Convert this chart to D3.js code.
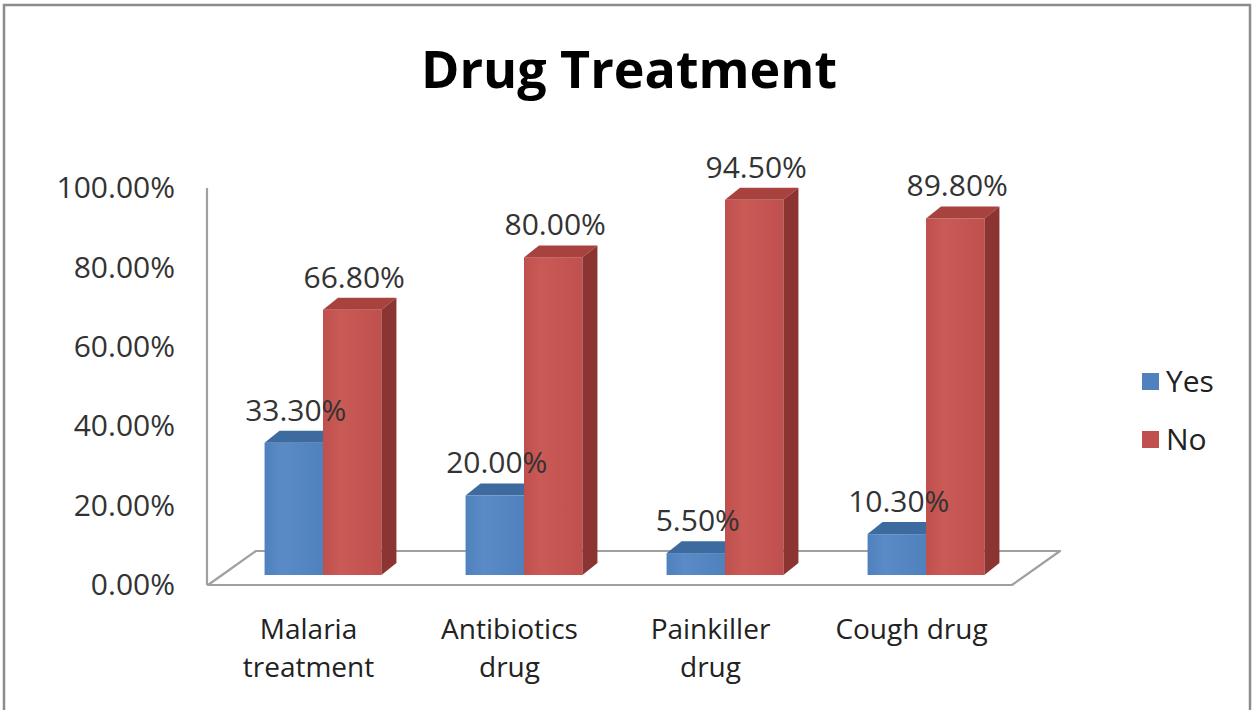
<!DOCTYPE html>
<html>
<head>
<meta charset="utf-8">
<script src="https://cdn.jsdelivr.net/npm/d3@7"></script>
<style>
  html, body { margin: 0; padding: 0; background: #ffffff; }
  svg { display: block; }
  text { font-family: "Open Sans", "Noto Sans", sans-serif; }
</style>
</head>
<body>
<svg id="chart" width="1255" height="710"></svg>
<script>
// Survey answers per drug type (percent of respondents)
const categories = ["Malaria treatment", "Antibiotics drug", "Painkiller drug", "Cough drug"];
const categoryLines = [["Malaria", "treatment"], ["Antibiotics", "drug"], ["Painkiller", "drug"], ["Cough drug"]];
const seriesNames = ["Yes", "No"];
const yesValues = [33.3, 20.0, 5.5, 10.3];
const noValues = [66.8, 80.0, 94.5, 89.8];
const yTicks = [0, 20, 40, 60, 80, 100];

const seriesValues = { Yes: yesValues, No: noValues };
const colors = {
  Yes: { front: "#4F81BD", light: "#5A8BC6", top: "#3D6A9F", side: "#385D8A" },
  No:  { front: "#C0504D", light: "#C95A56", top: "#A8423F", side: "#8C3431" }
};

const svg = d3.select("#chart");
const fmt = v => v.toFixed(2) + "%";

// Subtle shading across the front faces
const defs = svg.append("defs");
seriesNames.forEach(s => {
  const lg = defs.append("linearGradient").attr("id", "front-" + s)
    .attr("x1", "0%").attr("x2", "100%").attr("y1", "0%").attr("y2", "0%");
  lg.append("stop").attr("offset", "0%").attr("stop-color", colors[s].front);
  lg.append("stop").attr("offset", "30%").attr("stop-color", colors[s].light);
  lg.append("stop").attr("offset", "100%").attr("stop-color", colors[s].front);
});

// Outer frame
svg.append("rect")
  .attr("x", 4).attr("y", 5).attr("width", 1246).attr("height", 730)
  .attr("fill", "#ffffff").attr("stroke", "#8c8c8c").attr("stroke-width", 2.5);

// Title
svg.append("text")
  .attr("x", 629).attr("y", 88)
  .attr("text-anchor", "middle")
  .attr("font-size", 52).attr("font-weight", 700)
  .attr("fill", "#000")
  .text("Drug Treatment");

// Scales (front plane of the floor)
const x = d3.scaleBand().domain(categories).range([208, 1012]);
const xs = d3.scaleBand().domain(seriesNames).range([0, x.bandwidth()]).paddingOuter(0.72);
const y = d3.scaleLinear().domain([0, 100]).range([585, 188]);

// Perspective offsets: floor depth, bar position in depth, bar thickness
const floorDepth = { dx: 48, dy: -34 };
const barShift = { dx: 14.5, dy: -10 };
const barDepth = { dx: 15, dy: -12 };

// Floor
const x0 = x.range()[0], x1 = x.range()[1], y0 = y(0);
svg.append("polygon")
  .attr("points", [
    [x0, y0], [x1, y0], [x1 + floorDepth.dx, y0 + floorDepth.dy], [x0 + floorDepth.dx, y0 + floorDepth.dy]
  ].map(p => p.join(",")).join(" "))
  .attr("fill", "#ffffff").attr("stroke", "#a0a0a0").attr("stroke-width", 2.2)
  .attr("stroke-linejoin", "round");

// Vertical axis line
svg.append("line")
  .attr("x1", x0 - 1).attr("x2", x0 - 1)
  .attr("y1", y(100)).attr("y2", y0)
  .attr("stroke", "#a0a0a0").attr("stroke-width", 2.2);

// Y axis labels
const yAxis = d3.axisLeft(y).tickValues(yTicks).tickSize(0).tickPadding(0).tickFormat(fmt);
const gy = svg.append("g").attr("transform", "translate(175,0)").call(yAxis);
gy.select(".domain").remove();
gy.selectAll("text")
  .attr("font-size", 30).attr("font-family", "'Open Sans', sans-serif")
  .attr("fill", "#333");

// Bars
const barsData = [];
categories.forEach((c, i) => {
  seriesNames.forEach(s => {
    barsData.push({ cat: c, series: s, value: seriesValues[s][i] });
  });
});

const barG = svg.append("g");
barsData.forEach(d => {
  const bx0 = x(d.cat) + xs(d.series) + barShift.dx;
  const bx1 = bx0 + xs.bandwidth();
  const top = y(d.value) + barShift.dy;
  const bot = y(0) + barShift.dy;
  const c = colors[d.series];
  const g = barG.append("g");
  g.append("rect")
    .attr("x", bx0).attr("y", top).attr("width", bx1 - bx0).attr("height", bot - top)
    .attr("fill", "url(#front-" + d.series + ")");
  g.append("polygon")
    .attr("points", [[bx0, top], [bx0 + barDepth.dx, top + barDepth.dy], [bx1 + barDepth.dx, top + barDepth.dy], [bx1, top]]
      .map(p => p.join(",")).join(" "))
    .attr("fill", c.top);
  g.append("polygon")
    .attr("points", [[bx1, top], [bx1 + barDepth.dx, top + barDepth.dy], [bx1 + barDepth.dx, bot + barDepth.dy], [bx1, bot]]
      .map(p => p.join(",")).join(" "))
    .attr("fill", c.side);
});

// Value labels
svg.append("g").selectAll("text")
  .data(barsData)
  .join("text")
  .attr("x", d => x(d.cat) + xs(d.series) + barShift.dx + xs.bandwidth() / 2 + 2)
  .attr("y", d => y(d.value) + barShift.dy - 33)
  .attr("dy", "0.36em")
  .attr("text-anchor", "middle")
  .attr("font-size", 30)
  .attr("fill", "#333")
  .text(d => fmt(d.value));

// Category labels, one text per line
const catG = svg.append("g");
categories.forEach((c, i) => {
  categoryLines[i].forEach((line, j) => {
    catG.append("text")
      .attr("x", x(c) + x.bandwidth() / 2)
      .attr("y", 639 + j * 38)
      .attr("text-anchor", "middle")
      .attr("font-size", 28)
      .attr("fill", "#222")
      .text(line);
  });
});

// Legend
const legend = svg.append("g");
seriesNames.forEach((s, i) => {
  const ly = 381 + i * 58;
  legend.append("rect")
    .attr("x", 1142).attr("y", ly - 8).attr("width", 17).attr("height", 17)
    .attr("fill", colors[s].front);
  legend.append("text")
    .attr("x", 1166).attr("y", ly).attr("dy", "0.36em")
    .attr("font-size", 30).attr("fill", "#222")
    .text(s);
});
</script>
</body>
</html>
